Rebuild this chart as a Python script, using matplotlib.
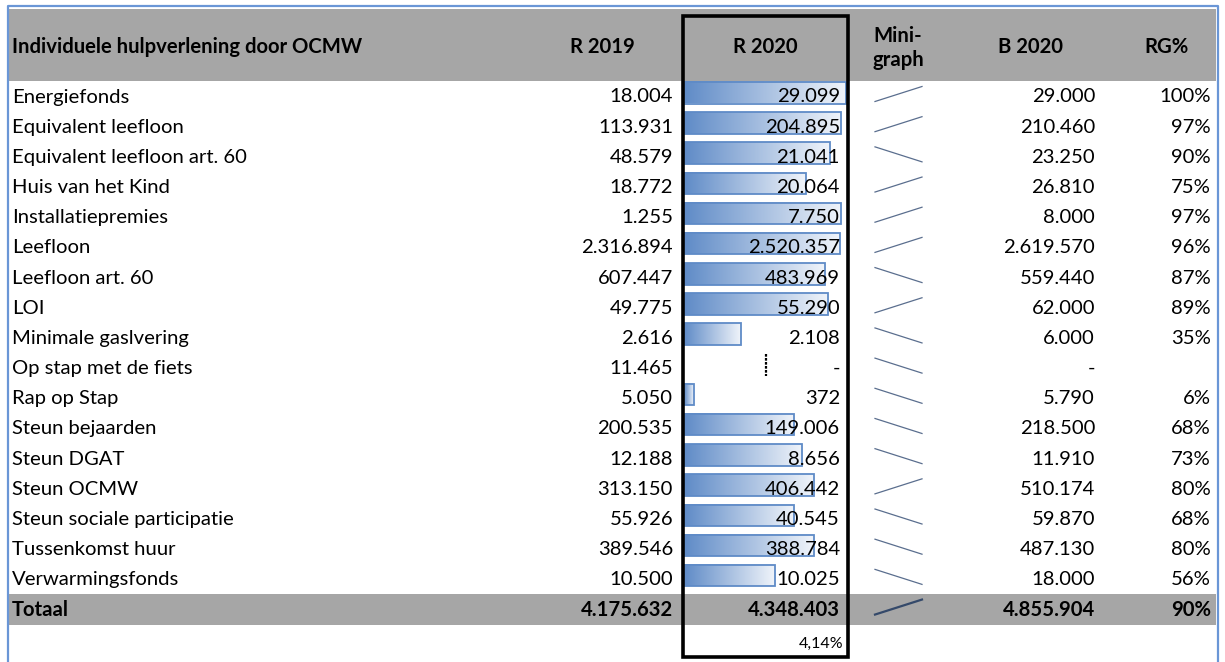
import matplotlib
matplotlib.use("Agg")
import matplotlib.pyplot as plt
from matplotlib.patches import Rectangle
from matplotlib.colors import LinearSegmentedColormap
import numpy as np

plt.rcParams['font.family'] = ['Lato', 'DejaVu Sans']

categories = ['Energiefonds', 'Equivalent leefloon', 'Equivalent leefloon art. 60',
              'Huis van het Kind', 'Installatiepremies', 'Leefloon', 'Leefloon art. 60',
              'LOI', 'Minimale gaslvering', 'Op stap met de fiets', 'Rap op Stap',
              'Steun bejaarden', 'Steun DGAT', 'Steun OCMW', 'Steun sociale participatie',
              'Tussenkomst huur', 'Verwarmingsfonds']
r2019 = [18004, 113931, 48579, 18772, 1255, 2316894, 607447, 49775, 2616, 11465,
         5050, 200535, 12188, 313150, 55926, 389546, 10500]
r2020 = [29099, 204895, 21041, 20064, 7750, 2520357, 483969, 55290, 2108, 0,
         372, 149006, 8656, 406442, 40545, 388784, 10025]
b2020 = [29000, 210460, 23250, 26810, 8000, 2619570, 559440, 62000, 6000, 0,
         5790, 218500, 11910, 510174, 59870, 487130, 18000]
rg = [100, 97, 90, 75, 97, 96, 87, 89, 35, None, 6, 68, 73, 80, 68, 80, 56]
tot_r2019 = 4175632
tot_r2020 = 4348403
tot_b2020 = 4855904
tot_rg = 90
growth = '4,14%'
headers = ['Individuele hulpverlening door OCMW', 'R 2019', 'R 2020', 'Mini-\ngraph', 'B 2020', 'RG%']


def fmt(v):
    if v == 0:
        return '-'
    return f'{v:,}'.replace(',', '.')


W, H = 1225, 662
fig = plt.figure(figsize=(W / 100, H / 100), dpi=100)
ax = fig.add_axes([0, 0, 1, 1])
ax.set_xlim(0, W)
ax.set_ylim(H, 0)
ax.axis('off')

gray = '#a6a6a6'
fs = 14.6
row_h = 30.18
top0 = 80.5

# outer frame
ax.plot([8, 8, 1218, 1218], [H, 6, 6, H], color='#6a96d6', lw=1.6, zorder=5)

# header
ax.add_patch(Rectangle((9, 9), 1207, top0 - 9, color=gray, lw=0, zorder=0))
hy = 47
ax.text(12, hy, headers[0], fontsize=fs, fontweight='bold', va='center', ha='left')
ax.text(602, hy, headers[1], fontsize=fs, fontweight='bold', va='center', ha='center')
ax.text(765, hy, headers[2], fontsize=fs, fontweight='bold', va='center', ha='center')
ax.text(898, hy + 1, headers[3], fontsize=fs, fontweight='bold', va='center', ha='center',
        linespacing=1.3)
ax.text(1030, hy, headers[4], fontsize=fs, fontweight='bold', va='center', ha='center')
ax.text(1166, hy, headers[5], fontsize=fs, fontweight='bold', va='center', ha='center')

cmap = LinearSegmentedColormap.from_list('bar', ['#5f8bc7', '#f0f4fa'])
grad = np.linspace(0, 1, 256).reshape(1, -1)
bar_x0, bar_w = 684, 162


def sparkline(y_top, a, b, lw=0.9, color='#5a6e8e'):
    lo, hi = min(a, b), max(a, b)
    span = hi - lo if hi != lo else 1
    ys = [y_top + 21 - 15 * (v - lo) / span for v in (a, b)]
    ax.plot([875, 922], ys, color=color, lw=lw, zorder=3)


for i, name in enumerate(categories):
    yt = top0 + i * row_h
    yc = yt + 16.5
    # data bar
    if rg[i] is not None:
        bw = bar_w * min(rg[i], 100) / 100
        ax.imshow(grad, cmap=cmap, extent=(bar_x0, bar_x0 + bw, yt + 23, yt + 1.5),
                  aspect='auto', zorder=1, interpolation='bilinear')
        ax.add_patch(Rectangle((bar_x0, yt + 1.5), bw, 21.5, fill=False,
                               ec='#5f8bc7', lw=1.3, zorder=2))
    else:
        ax.plot([766, 766], [yt + 2, yt + 24], color='black', lw=1.6,
                ls=(0, (1.2, 0.6)), zorder=2)
    ax.text(12, yc, name, fontsize=fs, va='center', ha='left')
    ax.text(673, yc, fmt(r2019[i]), fontsize=fs, va='center', ha='right')
    ax.text(840, yc, fmt(r2020[i]), fontsize=fs, va='center', ha='right', zorder=4)
    sparkline(yt, r2019[i], r2020[i])
    ax.text(1095, yc, fmt(b2020[i]), fontsize=fs, va='center', ha='right')
    if rg[i] is not None:
        ax.text(1211, yc, f'{rg[i]}%', fontsize=fs, va='center', ha='right')

# total row
yt = top0 + len(categories) * row_h
yc = yt + 16.5
ax.add_patch(Rectangle((9, yt), 1207, 31, color=gray, lw=0, zorder=0))
ax.text(12, yc, 'Totaal', fontsize=fs, fontweight='bold', va='center', ha='left')
ax.text(673, yc, fmt(tot_r2019), fontsize=fs, fontweight='bold', va='center', ha='right')
ax.text(840, yc, fmt(tot_r2020), fontsize=fs, fontweight='bold', va='center', ha='right')
sparkline(yt, tot_r2019, tot_r2020, lw=1.6, color='#34496a')
ax.text(1095, yc, fmt(tot_b2020), fontsize=fs, fontweight='bold', va='center', ha='right')
ax.text(1211, yc, f'{tot_rg}%', fontsize=fs, fontweight='bold', va='center', ha='right')

ax.text(843, yt + 50, growth, fontsize=11.5, va='center', ha='right')

# highlight box around R 2020
ax.add_patch(Rectangle((682.5, 15.5), 165, 641, fill=False, ec='black', lw=2.6, zorder=6))

plt.savefig('out.png', dpi=100)
